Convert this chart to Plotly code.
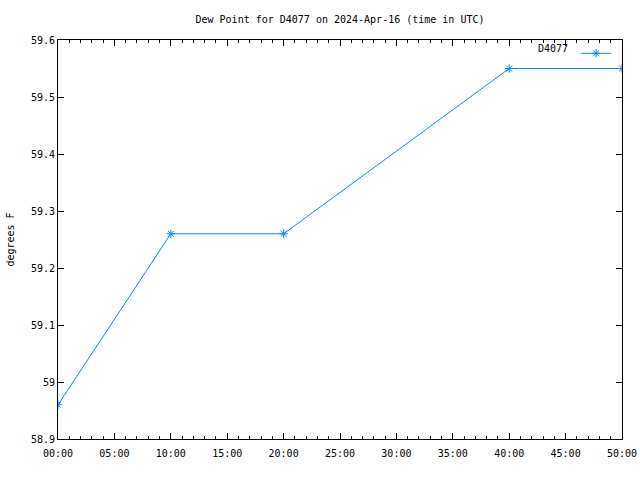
import plotly.graph_objects as go

times = [0, 10, 20, 40, 50]
dew_point = [58.96, 59.26, 59.26, 59.55, 59.55]
series_name = "D4077"
x_tick_vals = [0, 5, 10, 15, 20, 25, 30, 35, 40, 45, 50]
x_tick_text = ["00:00", "05:00", "10:00", "15:00", "20:00", "25:00", "30:00", "35:00", "40:00", "45:00", "50:00"]
y_tick_vals = [58.9, 59.0, 59.1, 59.2, 59.3, 59.4, 59.5, 59.6]
y_tick_text = ["58.9", "59", "59.1", "59.2", "59.3", "59.4", "59.5", "59.6"]

color = "#0a86ff"
font = dict(family="DejaVu Sans Mono", size=10, color="black")

fig = go.Figure()
fig.add_trace(go.Scatter(
    x=times, y=dew_point, mode="lines+markers", name="",
    line=dict(color=color, width=1),
    marker=dict(symbol="asterisk-open", size=7, color=color, line=dict(color=color, width=1)),
))

fig.update_layout(
    width=640, height=480,
    paper_bgcolor="white", plot_bgcolor="white",
    margin=dict(l=58, r=18, t=40, b=41, autoexpand=False),
    font=font,
    title=dict(text="Dew Point for D4077 on 2024-Apr-16 (time in UTC)", x=0.5, xref="paper",
               xanchor="center", y=1 - 19 / 480, yanchor="middle", font=font),
    showlegend=True,
    legend=dict(x=1.0, y=1.003, xanchor="right", yanchor="top", bgcolor="rgba(0,0,0,0)",
                font=font, itemwidth=30,
                title=dict(text=series_name, side="left", font=font)),
    xaxis=dict(range=[0, 50], tickvals=x_tick_vals, ticktext=x_tick_text,
               showgrid=False, zeroline=False, showline=True, linecolor="black", linewidth=1,
               mirror="ticks", ticks="inside", ticklen=6, tickcolor="black",
               minor=dict(ticks="inside", dtick=1, ticklen=3, tickcolor="black", showgrid=False),
               tickfont=font, ticklabelstandoff=5, automargin=False),
    yaxis=dict(range=[58.9, 59.6], tickvals=y_tick_vals, ticktext=y_tick_text,
               showgrid=False, zeroline=False, showline=True, linecolor="black", linewidth=1,
               mirror="ticks", ticks="inside", ticklen=6, tickcolor="black",
               tickfont=font, automargin=False,
               title=dict(text="degrees F", font=font, standoff=14)),
)

fig.write_html("out.html")
